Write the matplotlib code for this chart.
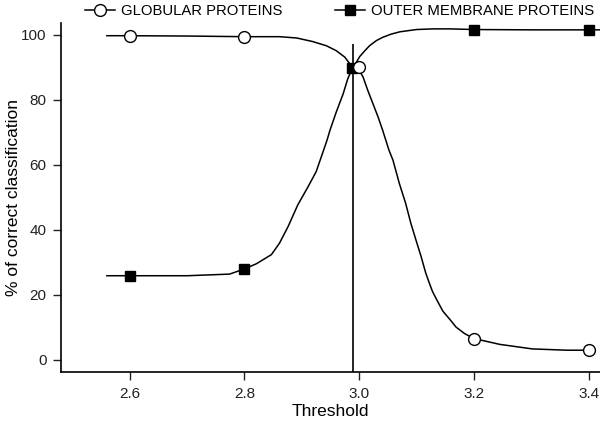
import matplotlib
matplotlib.use("Agg")
import matplotlib.pyplot as plt
from matplotlib.lines import Line2D

plt.rcParams['font.family'] = ['Liberation Sans', 'DejaVu Sans']

# Marker data
glob_marker_x = [2.6, 2.8, 3.0, 3.2, 3.4]
glob_marker_y = [99.7, 99.4, 90.2, 6.6, 3.0]
omp_marker_x = [2.6, 2.8, 2.988, 3.2, 3.4]
omp_marker_y = [25.9, 28.0, 89.7, 101.5, 101.5]

# Smooth curve samples
glob_curve_x = [2.56, 2.6, 2.7, 2.8, 2.861, 2.891, 2.919, 2.943, 2.960, 2.975,
                2.983, 2.990, 3.000, 3.007, 3.015, 3.024, 3.033, 3.041, 3.052,
                3.059, 3.070, 3.081, 3.090, 3.099, 3.108, 3.116, 3.122, 3.128,
                3.135, 3.146, 3.158, 3.169, 3.184, 3.2, 3.245, 3.302, 3.362, 3.4]
glob_curve_y = [99.7, 99.7, 99.6, 99.4, 99.4, 99.0, 97.9, 96.6, 95.1, 93.1,
                91.2, 90.0, 89.2, 86.9, 82.9, 78.8, 74.7, 70.6, 64.5,
                61.4, 54.3, 48.2, 42.1, 36.9, 31.8, 26.8, 23.8, 21.0,
                18.6, 15.0, 12.5, 10.1, 8.1, 6.6, 4.8, 3.4, 3.0, 3.0]
omp_curve_x = [2.56, 2.6, 2.7, 2.774, 2.8, 2.821, 2.847, 2.861, 2.876, 2.893,
               2.911, 2.925, 2.936, 2.944, 2.949, 2.960, 2.972, 2.980, 2.988,
               2.995, 3.001, 3.010, 3.018, 3.030, 3.041, 3.056, 3.071, 3.100,
               3.129, 3.158, 3.2, 3.3, 3.4, 3.42]
omp_curve_y = [25.9, 25.9, 25.9, 26.4, 28.0, 29.6, 32.4, 35.9, 41.0, 47.7,
               53.3, 57.9, 63.5, 67.6, 70.6, 76.2, 81.8, 86.4, 89.7,
               91.5, 93.3, 95.1, 96.6, 98.2, 99.2, 100.2, 100.9, 101.6,
               101.8, 101.8, 101.6, 101.5, 101.5, 101.5]

threshold_line = 2.99
threshold_top = 97.0

x_ticks = [2.6, 2.8, 3.0, 3.2, 3.4]
x_ticklabels = ["2.6", "2.8", "3.0", "3.2", "3.4"]
y_ticks = [0, 20, 40, 60, 80, 100]

W, H = 600, 424
fig = plt.figure(figsize=(W / 100, H / 100), dpi=100)
ax_left, ax_right, ax_bottom, ax_top = 61, 600, 372, 22.7
ax = fig.add_axes([ax_left / W, 1 - ax_bottom / H,
                   (ax_right - ax_left) / W, (ax_bottom - ax_top) / H])

lw = 1.1
ax.plot(glob_curve_x, glob_curve_y, color='black', lw=lw, zorder=2, clip_on=False)
ax.plot(omp_curve_x, omp_curve_y, color='black', lw=lw, zorder=2, clip_on=False)
ax.vlines(threshold_line, -3.7, threshold_top, color='black', lw=1.2, zorder=1)
ax.plot(omp_marker_x, omp_marker_y, ls='none', marker='s', ms=7, mfc='black',
        mec='black', zorder=3, clip_on=False)
ax.plot(glob_marker_x, glob_marker_y, ls='none', marker='o', ms=8.5, mfc='white',
        mec='black', mew=1.0, zorder=4, clip_on=False)

ax.set_xlim(2.48, 3.42)
ax.set_ylim(-3.7, 103.7)
ax.set_xticks(x_ticks)
ax.set_xticklabels(x_ticklabels)
ax.set_yticks(y_ticks)
for s in ['top', 'right']:
    ax.spines[s].set_visible(False)
for s in ['left', 'bottom']:
    ax.spines[s].set_linewidth(1.2)
ax.tick_params(axis='both', length=6, width=1.0, labelsize=11, colors='#222222',
               pad=4.5)
ax.set_xlabel("Threshold", fontsize=12.5)
ax.set_ylabel("% of correct classification", fontsize=12.5)
ax.yaxis.set_label_coords((21.5 - ax_left) / (ax_right - ax_left), 0.5)
ax.xaxis.set_label_coords(0.5, -(404 - ax_bottom) / (ax_bottom - ax_top))

h1 = Line2D([], [], color='black', lw=lw, marker='o', ms=8.5, mfc='white', mec='black')
h2 = Line2D([], [], color='black', lw=lw, marker='s', ms=7, mfc='black', mec='black')
fig.legend([h1, h2], ["GLOBULAR PROTEINS", "OUTER MEMBRANE PROTEINS"],
           loc='center left', bbox_to_anchor=(85 / W, 1 - 11 / H), ncol=2,
           frameon=False, fontsize=10.7, handlelength=2.0, columnspacing=3.5,
           handletextpad=0.45, borderpad=0, borderaxespad=0)

fig.savefig("out.png", dpi=100)
